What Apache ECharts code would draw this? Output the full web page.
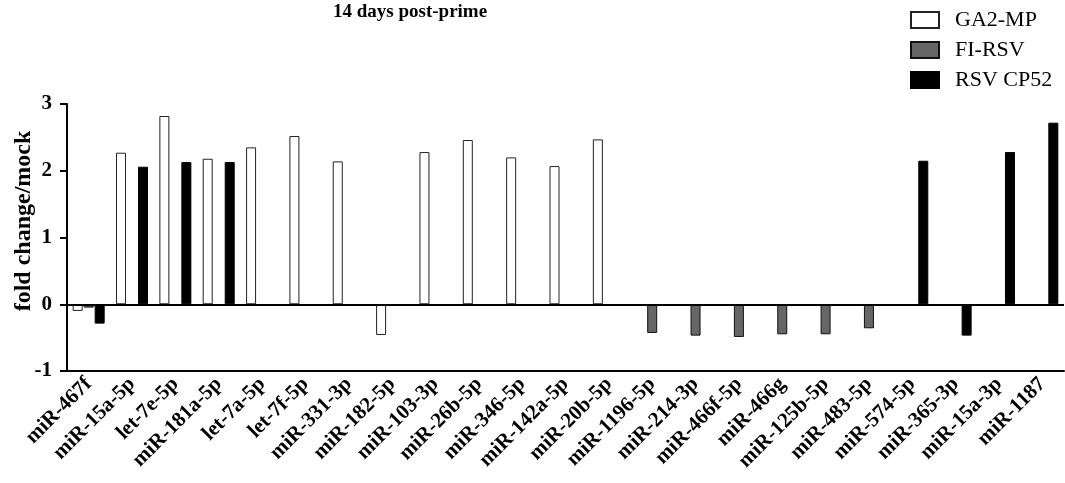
<!DOCTYPE html>
<html>
<head>
<meta charset="utf-8">
<script src="https://cdn.jsdelivr.net/npm/echarts@6/dist/echarts.min.js"></script>
<style>
  html, body { margin: 0; padding: 0; background: #fff; }
  #chart { width: 1065px; height: 483px; }
</style>
</head>
<body>
<div id="chart"></div>
<script>
  // miRNA categories along x
  var categories = ['miR-467f', 'miR-15a-5p', 'let-7e-5p', 'miR-181a-5p', 'let-7a-5p', 'let-7f-5p',
    'miR-331-3p', 'miR-182-5p', 'miR-103-3p', 'miR-26b-5p', 'miR-346-5p', 'miR-142a-5p', 'miR-20b-5p',
    'miR-1196-5p', 'miR-214-3p', 'miR-466f-5p', 'miR-466g', 'miR-125b-5p', 'miR-483-5p',
    'miR-574-5p', 'miR-365-3p', 'miR-15a-3p', 'miR-1187']

  var ga2mp = [-0.1, 2.27, 2.82, 2.18, 2.35, 2.52, 2.14, -0.46, 2.28, 2.46, 2.2, 2.07, 2.47,
    null, null, null, null, null, null, null, null, null, null]
  var fiRsv = [-0.05, null, null, null, null, null, null, null, null, null, null, null, null,
    -0.43, -0.47, -0.49, -0.45, -0.45, -0.36, null, null, null, null]
  var rsvCp52 = [-0.29, 2.06, 2.13, 2.13, null, null, null, null, null, null, null, null, null,
    null, null, null, null, null, null, 2.15, -0.47, 2.28, 2.72]

  var yTicks = [-1, 0, 1, 2, 3]

  var serif = '"Liberation Serif", "Times New Roman", serif'

  var chart = echarts.init(document.getElementById('chart'))

  var option = {
    animation: false,
    title: {
      text: '14 days post-prime',
      left: 333,
      top: 3,
      padding: 0,
      textStyle: {
        fontFamily: serif,
        fontWeight: 'bold',
        fontSize: 19,
        color: '#000'
      }
    },
    legend: {
      orient: 'vertical',
      left: 910,
      top: 9,
      padding: 0,
      itemWidth: 28,
      itemHeight: 16,
      itemGap: 8,
      icon: 'rect',
      textStyle: {
        fontFamily: serif,
        fontSize: 22,
        color: '#000',
        padding: [0, 0, 0, 11]
      },
      data: ['GA2-MP', 'FI-RSV', 'RSV CP52']
    },
    graphic: [
      {
        type: 'text',
        x: 24,
        y: 221,
        rotation: Math.PI / 2,
        style: {
          text: 'fold change/mock',
          fontFamily: serif,
          fontWeight: 'bold',
          fontSize: 24,
          fill: '#000',
          align: 'center',
          verticalAlign: 'middle'
        }
      }
    ],
    grid: {
      left: 67,
      right: 1,
      top: 104,
      bottom: 112,
      containLabel: false
    },
    xAxis: {
      type: 'category',
      data: categories,
      axisLine: { onZero: false, lineStyle: { color: '#000', width: 2 } },
      axisTick: { alignWithLabel: true, length: 7, lineStyle: { color: '#000', width: 2 } },
      axisLabel: {
        interval: 0,
        rotate: 45,
        margin: 10,
        fontFamily: serif,
        fontWeight: 'bold',
        fontSize: 21,
        color: '#000'
      },
      splitLine: { show: false }
    },
    yAxis: {
      type: 'value',
      min: yTicks[0],
      max: yTicks[yTicks.length - 1],
      interval: 1,
      axisLine: { show: true, lineStyle: { color: '#000', width: 2 } },
      axisTick: { show: true, length: 7, lineStyle: { color: '#000', width: 2 } },
      axisLabel: {
        margin: 15,
        fontFamily: serif,
        fontWeight: 'bold',
        fontSize: 21,
        color: '#000'
      },
      splitLine: { show: false }
    },
    series: [
      {
        name: 'GA2-MP',
        type: 'bar',
        barWidth: 10,
        barGap: '10%',
        itemStyle: { color: '#fff', borderColor: '#222', borderWidth: 1 },
        data: ga2mp,
        markLine: {
          silent: true,
          symbol: 'none',
          label: { show: false },
          lineStyle: { color: '#000', width: 2, type: 'solid' },
          data: [{ yAxis: 0 }]
        }
      },
      {
        name: 'FI-RSV',
        type: 'bar',
        barWidth: 10,
        barGap: '10%',
        itemStyle: { color: '#666', borderColor: '#111', borderWidth: 1 },
        data: fiRsv
      },
      {
        name: 'RSV CP52',
        type: 'bar',
        barWidth: 10,
        barGap: '10%',
        itemStyle: { color: '#000', borderColor: '#000', borderWidth: 1 },
        data: rsvCp52
      }
    ]
  }

  chart.setOption(option)
</script>
</body>
</html>
